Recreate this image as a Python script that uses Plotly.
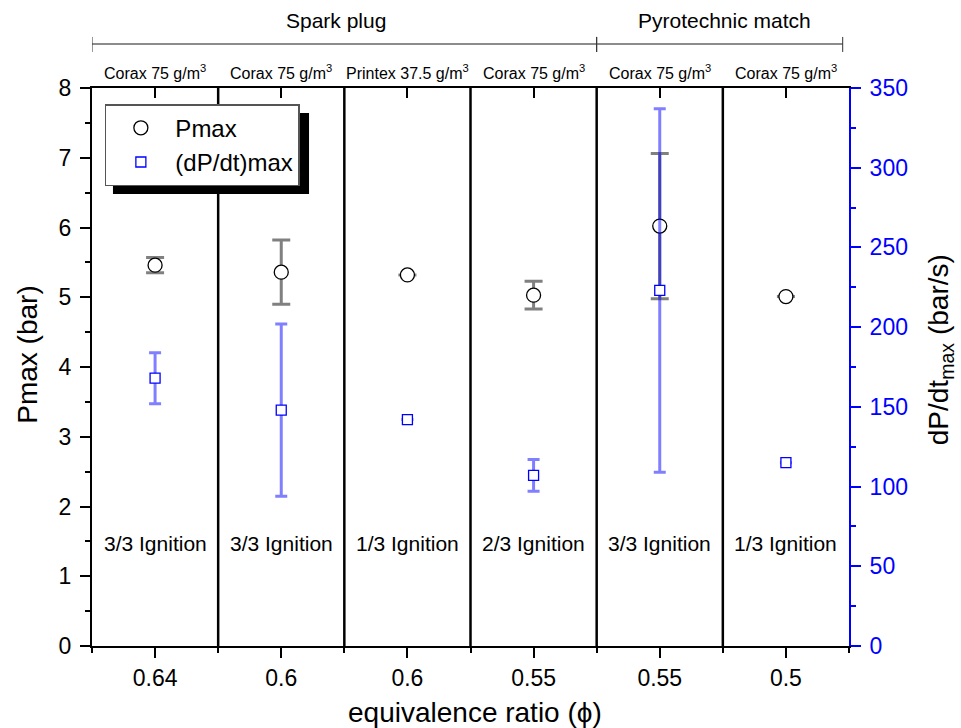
import plotly.graph_objects as go

# ---- data ----
phi_labels = ['0.64', '0.6', '0.6', '0.55', '0.55', '0.5']
pmax = [5.46, 5.36, 5.32, 5.03, 6.02, 5.01]
pmax_err = [0.11, 0.46, None, 0.20, 1.04, None]
dpdt = [168, 148, 142, 107, 223, 115]
dpdt_err = [16, 54, None, 10, 114, None]
dust_labels = ['Corax 75 g/m<sup>3</sup>', 'Corax 75 g/m<sup>3</sup>', 'Printex 37.5 g/m<sup>3</sup>',
               'Corax 75 g/m<sup>3</sup>', 'Corax 75 g/m<sup>3</sup>', 'Corax 75 g/m<sup>3</sup>']
ignition_labels = ['3/3 Ignition', '3/3 Ignition', '1/3 Ignition', '2/3 Ignition', '3/3 Ignition', '1/3 Ignition']
groups = ['Spark plug', 'Pyrotechnic match']
group_start = [-0.5, 3.5]
group_end = [3.5, 5.45]
group_label_x = [1.43, 4.51]

xpos = list(range(len(phi_labels)))
FONT = 'Arial, "Liberation Sans", sans-serif'

fig = go.Figure()
fig.add_trace(go.Scatter(
    x=xpos, y=pmax, mode='markers', name='Pmax',
    marker=dict(symbol='circle', size=14, color='white', line=dict(color='black', width=1.3)),
    error_y=dict(type='data', array=pmax_err, visible=True, color='rgba(60,60,60,0.65)', thickness=3, width=9),
    yaxis='y'))
fig.add_trace(go.Scatter(
    x=xpos, y=dpdt, mode='markers', name='(dP/dt)max',
    marker=dict(symbol='square', size=10, color='white', line=dict(color='blue', width=1.3)),
    error_y=dict(type='data', array=dpdt_err, visible=True, color='rgba(0,0,255,0.5)', thickness=3, width=6),
    yaxis='y2'))
# invisible trace for top axis
fig.add_trace(go.Scatter(x=xpos, y=pmax, mode='markers', marker=dict(opacity=0), showlegend=False,
                         xaxis='x2', yaxis='y', hoverinfo='skip'))

shapes = []
for b in [i + 0.5 for i in range(len(phi_labels) - 1)]:
    shapes.append(dict(type='line', xref='x', yref='paper', x0=b, x1=b, y0=0, y1=1,
                       line=dict(color='black', width=2.5), layer='above'))
# legend shadow
shapes.append(dict(type='rect', xref='paper', yref='paper', x0=0.0277, x1=0.2867, y0=0.81, y1=0.955,
                   fillcolor='black', line=dict(width=0), layer='above'))
# group brackets
for s, e in zip(group_start, group_end):
    shapes.append(dict(type='line', xref='x', yref='paper', x0=s, x1=e, y0=1.0789, y1=1.0789,
                       line=dict(color='#666666', width=1.5)))
    for xx in (s, e):
        shapes.append(dict(type='line', xref='x', yref='paper', x0=xx, x1=xx, y0=1.0646, y1=1.0915,
                           line=dict(color='#333333', width=1)))

ann = []
for g, gx in zip(groups, group_label_x):
    ann.append(dict(text=g, x=gx, xref='x', y=1.1202, yref='paper', showarrow=False,
                    font=dict(size=21, color='black'), yanchor='middle'))
for i, t in enumerate(dust_labels):
    ann.append(dict(text=t, x=i, xref='x', y=1.0287, yref='paper', showarrow=False,
                    font=dict(size=16, color='black'), yanchor='middle'))
for i, t in enumerate(ignition_labels):
    ann.append(dict(text=t, x=i, xref='x', y=1.47, yref='y', showarrow=False,
                    font=dict(size=21, color='black'), yanchor='middle'))
# axis titles
ann.append(dict(text='equivalence ratio (ϕ)', x=(475 - 92) / 757, xref='paper', y=-0.1193, yref='paper',
                showarrow=False, font=dict(size=28, color='black'), yanchor='middle'))
ann.append(dict(text='Pmax (bar)', x=(27.5 - 92) / 757, xref='paper', y=(645.5 - 355) / 557.5, yref='paper',
                showarrow=False, font=dict(size=28, color='black'), textangle=-90, xanchor='center', yanchor='middle'))
ann.append(dict(text='dP/dt<sub>max</sub> (bar/s)', x=(940 - 92) / 757, xref='paper', y=(645.5 - 350) / 557.5,
                yref='paper', showarrow=False, font=dict(size=28, color='black'), textangle=-90,
                xanchor='center', yanchor='middle'))

fig.update_layout(
    width=961, height=728,
    margin=dict(l=92, r=112, t=88, b=82, autoexpand=False),
    paper_bgcolor='white', plot_bgcolor='white',
    font=dict(family=FONT, color='black'),
    showlegend=True,
    legend=dict(x=0.017, y=0.971, xanchor='left', yanchor='top', bgcolor='white',
                bordercolor='#555555', borderwidth=1.5, font=dict(size=24), itemwidth=59),
    xaxis=dict(range=[-0.5, 5.5], tickvals=xpos, ticktext=phi_labels, ticks='outside', ticklen=10, tickwidth=2,
               tickcolor='black', showline=True, linecolor='black', linewidth=2, showgrid=False, zeroline=False,
               tickfont=dict(size=23), ticklabelstandoff=0,
               minor=dict(tickvals=[i - 0.5 for i in range(len(phi_labels) + 1)], ticks='outside', ticklen=5,
                          tickwidth=2, tickcolor='black', showgrid=False)),
    xaxis2=dict(range=[-0.5, 5.5], overlaying='x', side='top', tickvals=xpos, showticklabels=False,
                ticks='inside', ticklen=10, tickwidth=2, tickcolor='black', showline=True, linecolor='black',
                linewidth=2, showgrid=False, zeroline=False),
    yaxis=dict(range=[0, 8], dtick=1, ticks='outside', ticklen=10, tickwidth=2, tickcolor='black',
               showline=True, linecolor='black', linewidth=2, showgrid=False, zeroline=False,
               tickfont=dict(size=23), ticklabelstandoff=4,
               minor=dict(dtick=0.5, ticks='outside', ticklen=5, tickwidth=2, tickcolor='black', showgrid=False)),
    yaxis2=dict(range=[0, 350], dtick=50, overlaying='y', side='right', ticks='outside', ticklen=10, tickwidth=2,
                tickcolor='blue', showline=True, linecolor='blue', linewidth=2, showgrid=False, zeroline=False,
                tickfont=dict(size=23, color='blue'), ticklabelstandoff=4,
                minor=dict(dtick=25, ticks='outside', ticklen=5, tickwidth=2, tickcolor='blue', showgrid=False)),
    shapes=shapes, annotations=ann,
)

fig.write_html('out.html')
